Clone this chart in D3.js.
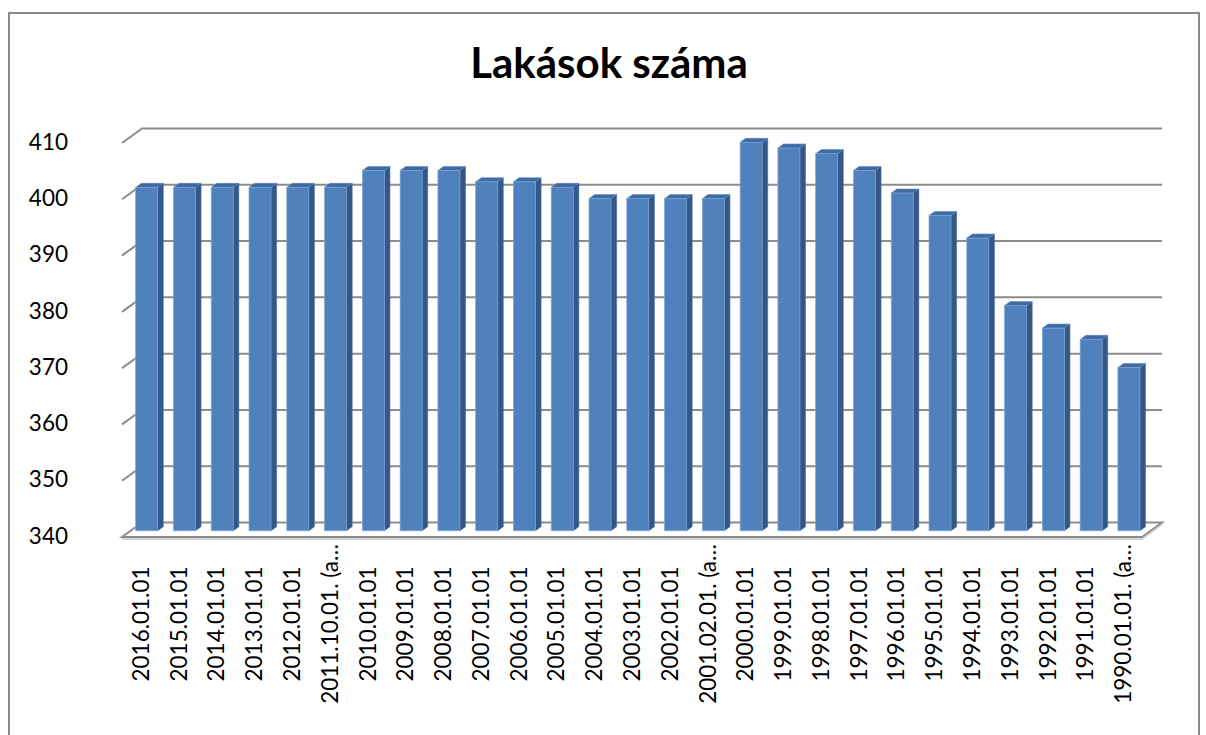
<!DOCTYPE html>
<html><head><meta charset="utf-8">
<script src="https://cdn.jsdelivr.net/npm/d3@7"></script>
<style>body{margin:0;background:#fff;}svg{display:block;}</style>
</head><body>
<script>
const title = "Lakások száma";
const categories = ["2016.01.01","2015.01.01","2014.01.01","2013.01.01","2012.01.01","2011.10.01. (a…","2010.01.01","2009.01.01","2008.01.01","2007.01.01","2006.01.01","2005.01.01","2004.01.01","2003.01.01","2002.01.01","2001.02.01. (a…","2000.01.01","1999.01.01","1998.01.01","1997.01.01","1996.01.01","1995.01.01","1994.01.01","1993.01.01","1992.01.01","1991.01.01","1990.01.01. (a…"];
const values = [401,401,401,401,401,401,404,404,404,402,402,401,399,399,399,399,409,408,407,404,400,396,392,380,376,374,369];
const yTicks = [340,350,360,370,380,390,400,410];

const W = 1206, H = 735;
const svg = d3.select("body").append("svg").attr("width", W).attr("height", H);
const font = "Lato, 'Open Sans', sans-serif";

// outer border
svg.append("rect").attr("x", 9).attr("y", 13).attr("width", 1190).attr("height", 740)
  .attr("fill", "none").attr("stroke", "#8a8a8a").attr("stroke-width", 2);

// projection
const DX = 20, DY = -14.5;
const x = d3.scaleBand().domain(categories).range([122, 1142]).paddingInner(0).paddingOuter(0);
const y = d3.scaleLinear().domain([340, 410]).range([537, 143]);

const grid = "#8c8c8c";
const g = svg.append("g");

// floor
const f = [[122, y(340)], [1142, y(340)], [1142 + DX, y(340) + DY], [122 + DX, y(340) + DY]];
g.append("path").attr("d", "M" + f.map(p => p.join(",")).join("L") + "Z")
  .attr("fill", "#fff").attr("stroke", grid).attr("stroke-width", 2);
g.append("path").attr("d", `M122,${y(340)+2}L1142,${y(340)+2}L${1142+DX},${y(340)+DY+2}`)
  .attr("fill", "none").attr("stroke", "#c8c8c8").attr("stroke-width", 1.5);

// gridlines (back wall + left wall diagonals)
yTicks.filter(v => v > 340).forEach(v => {
  g.append("path")
    .attr("d", `M122,${y(v)}L${122 + DX},${y(v) + DY}L${1142 + DX},${y(v) + DY}`)
    .attr("fill", "none").attr("stroke", grid).attr("stroke-width", 2);
});

// y labels
svg.append("g").selectAll("text").data(yTicks).join("text")
  .attr("x", 68).attr("y", d => y(d)).attr("dy", "0.3em")
  .attr("text-anchor", "end").attr("font-family", font).attr("font-size", 22.5)
  .attr("fill", "#000").text(d => d);

// bars
const f1 = 0.43, f2 = 0.71;
const faceW = 22;
const sideW = (f2 - f1) * DX, sideH = (f2 - f1) * DY;
const bars = svg.append("g");
categories.forEach((c, i) => {
  const v = values[i];
  const bx = x(c) + f1 * DX + (x.bandwidth() - faceW - sideW) / 2;
  const yt = y(v) + f1 * DY, yb = y(340) + f1 * DY;
  // side
  bars.append("path")
    .attr("d", `M${bx + faceW},${yt}L${bx + faceW + sideW},${yt + sideH}L${bx + faceW + sideW},${yb + sideH}L${bx + faceW},${yb}Z`)
    .attr("fill", "#34578a").attr("stroke", "#4a6d9c").attr("stroke-width", 0.6);
  // top
  bars.append("path")
    .attr("d", `M${bx},${yt}L${bx + sideW},${yt + sideH}L${bx + faceW + sideW},${yt + sideH}L${bx + faceW},${yt}Z`)
    .attr("fill", "#3f6ba3").attr("stroke", "#5a86bd").attr("stroke-width", 0.6);
  // front
  bars.append("rect").attr("x", bx).attr("y", yt).attr("width", faceW).attr("height", yb - yt)
    .attr("fill", "#4f81bd").attr("stroke", "#7fa3d2").attr("stroke-width", 0.7);
});

// x labels
svg.append("g").selectAll("text").data(categories).join("text")
  .attr("transform", d => `translate(${x(d) + x.bandwidth() / 2 + 8},624) rotate(-90)`)
  .attr("text-anchor", "middle").attr("font-family", font).attr("font-size", 22.5)
  .attr("fill", "#000").text(d => d);

// title
svg.append("text").attr("x", 609).attr("y", 78).attr("text-anchor", "middle")
  .attr("font-family", font).attr("font-weight", "bold").attr("font-size", 42)
  .attr("fill", "#000").text(title);
</script>
</body></html>
